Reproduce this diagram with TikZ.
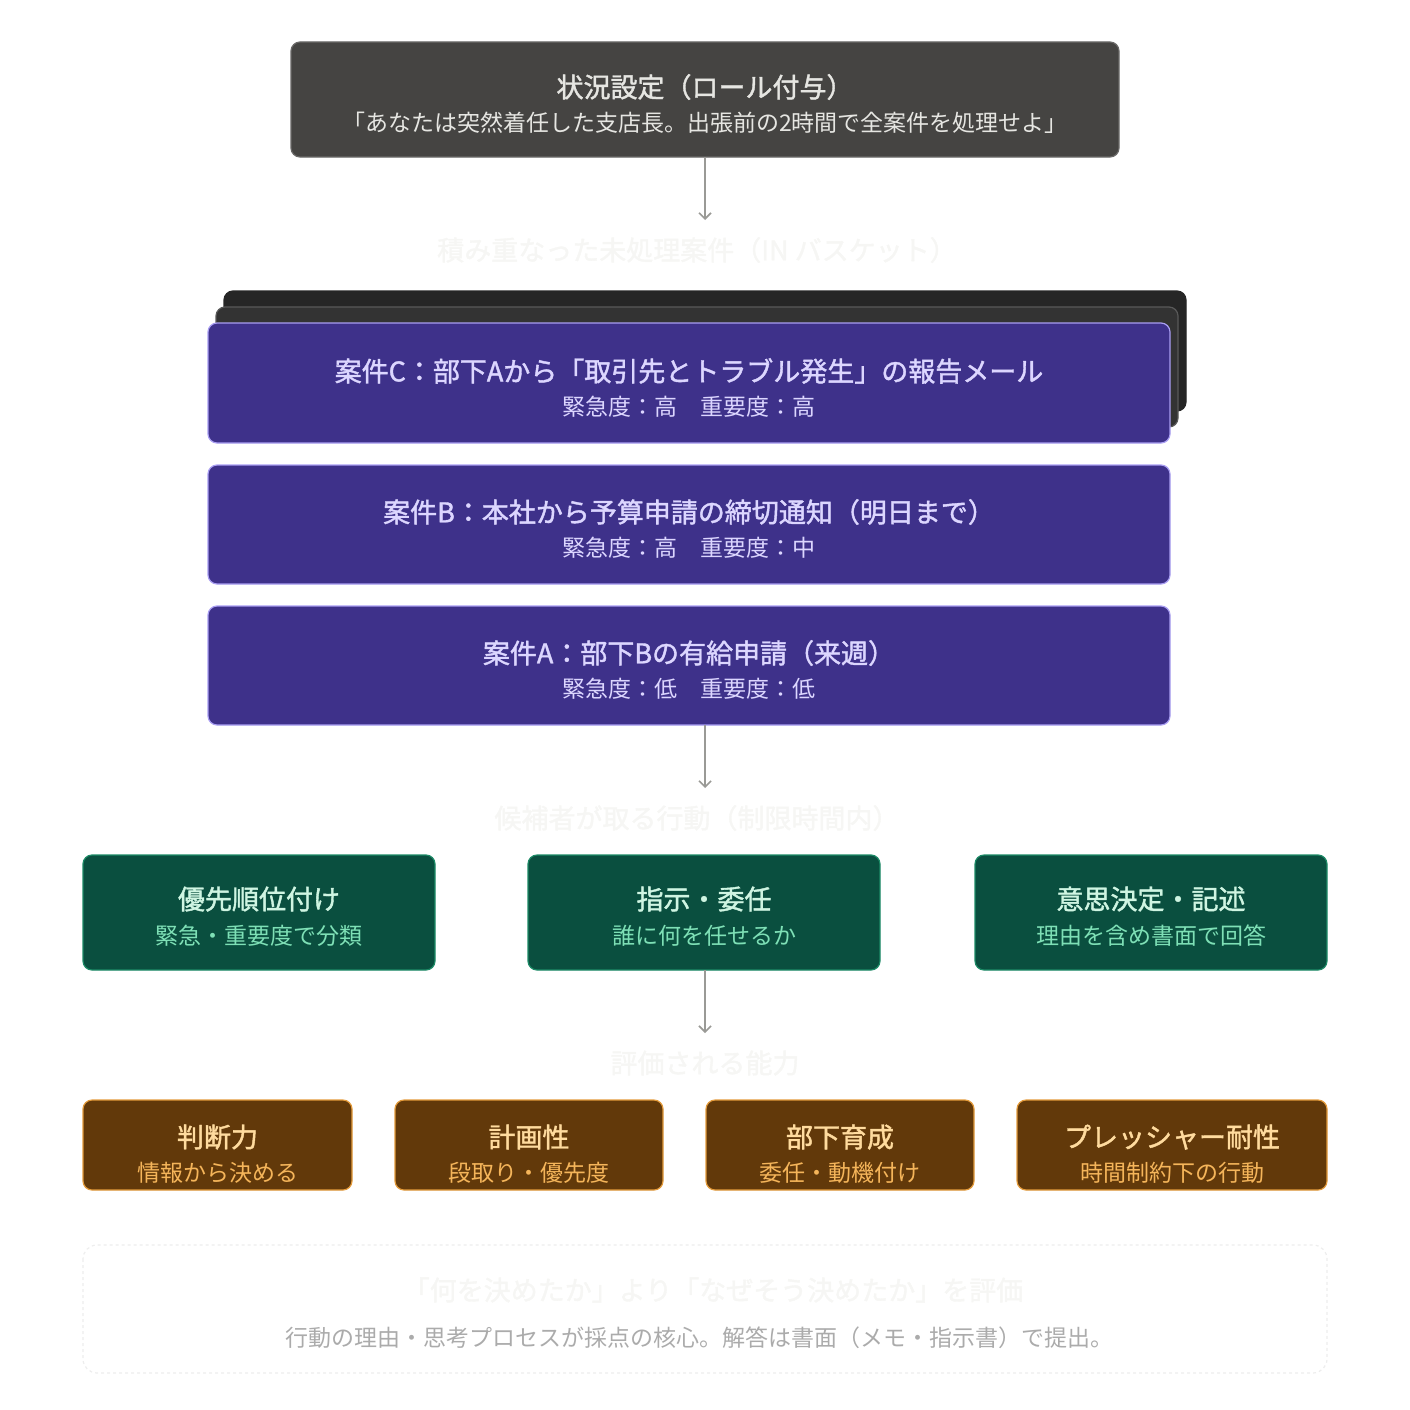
\documentclass[tikz,border=0pt]{standalone}
\usetikzlibrary{arrows.meta}
\usepackage{fontspec}
\setmainfont{Noto Sans CJK JP}
\newfontfamily\jpb{Noto Sans CJK JP}[FakeBold=1.5]
\definecolor{topbg}{HTML}{454442}
\definecolor{topfg}{HTML}{E6E6E2}
\definecolor{pbg}{HTML}{3E318A}
\definecolor{pfg}{HTML}{DCD6FF}
\definecolor{pbd}{HTML}{A99EF2}
\definecolor{gbg}{HTML}{0A4F3F}
\definecolor{gfg}{HTML}{CFF5E2}
\definecolor{gsub}{HTML}{7EE0B6}
\definecolor{gbd}{HTML}{1C8A66}
\definecolor{bbg}{HTML}{62390A}
\definecolor{bfg}{HTML}{FFDB9E}
\definecolor{bsub}{HTML}{F5B55A}
\definecolor{bbd}{HTML}{E39A3A}
\definecolor{faint}{HTML}{F6F6F4}
\definecolor{arr}{HTML}{9A9A96}
\begin{document}
\begin{tikzpicture}[x=1pt,y=-1pt,
  box/.style={rounded corners=9pt,line width=1.2pt},
  ttl/.style={font=\jpb\fontsize{27}{30}\selectfont},
  sub/.style={font=\fontsize{23}{26}\selectfont},
  conn/.style={draw=arr,line width=1.6pt,-{Straight Barb[length=6pt,width=12pt]}},
  sect/.style={text=faint,font=\jpb\fontsize{27}{30}\selectfont}]
\useasboundingbox (0,0) rectangle (1410,1410);
% top
\draw[box,fill=topbg,draw=topbg!80!white] (291,42) rectangle (1119,157);
\node[ttl,text=topfg] (t1) at (705,87) {状況設定（ロール付与）};
\node[sub,text=topfg] (t2) at (705,123) {「あなたは突然着任した支店長。出張前の2時間で全案件を処理せよ」};
\coordinate (topb) at (705,157);
\node[sect] (s1) at (697,250) {積み重なった未処理案件（IN バスケット）};
\coordinate (a1) at (705,220);
\draw[conn] (topb) -- (a1);
% stack
\draw[box,fill=black!85,draw=black!85] (224,291) rectangle (1186,411);
\draw[box,fill=black!80,draw=black!65] (216,307) rectangle (1178,427);
\draw[box,fill=pbg,draw=pbd] (208,323) rectangle (1170,443);
\node[ttl,text=pfg] (c1) at (689,371) {案件C：部下Aから「取引先とトラブル発生」の報告メール};
\node[sub,text=pfg] (c2) at (689,407) {緊急度：高　重要度：高};
\draw[box,fill=pbg,draw=pbd] (208,465) rectangle (1170,584);
\node[ttl,text=pfg] (b1) at (689,512) {案件B：本社から予算申請の締切通知（明日まで）};
\node[sub,text=pfg] (b2) at (689,548) {緊急度：高　重要度：中};
\draw[box,fill=pbg,draw=pbd] (208,606) rectangle (1170,725);
\node[ttl,text=pfg] (aa1) at (689,653) {案件A：部下Bの有給申請（来週）};
\node[sub,text=pfg] (aa2) at (689,689) {緊急度：低　重要度：低};
\coordinate (abot) at (705,725);
\coordinate (a2) at (705,788);
\draw[conn] (abot) -- (a2);
\node[sect] (s2) at (697,818) {候補者が取る行動（制限時間内）};
% green
\foreach \x/\t/\s/\n in {83/優先順位付け/緊急・重要度で分類/g1,528/指示・委任/誰に何を任せるか/g2,975/意思決定・記述/理由を含め書面で回答/g3}{
  \draw[box,fill=gbg,draw=gbd] (\x,855) rectangle (\x+352,970);
  \node[ttl,text=gfg] (\n t) at (\x+176,899) {\t};
  \node[sub,text=gsub] (\n s) at (\x+176,936) {\s};
}
\coordinate (gbot) at (705,970);
\coordinate (a3) at (705,1033);
\draw[conn] (gbot) -- (a3);
\node[sect] (s3) at (705,1063) {評価される能力};
% brown
\foreach \x/\w/\t/\s/\n in {83/269/判断力/情報から決める/r1,395/268/計画性/段取り・優先度/r2,706/268/部下育成/委任・動機付け/r3,1017/310/プレッシャー耐性/時間制約下の行動/r4}{
  \draw[box,fill=bbg,draw=bbd] (\x,1100) rectangle (\x+\w,1190);
  \node[ttl,text=bfg] (\n t) at (\x+\w/2,1137) {\t};
  \node[sub,text=bsub] (\n s) at (\x+\w/2,1173) {\s};
}
% bottom note
\draw[rounded corners=14pt,draw=black!7,dashed,line width=1.2pt] (83,1245) rectangle (1327,1373);
\node[sect] (n1) at (713,1290) {「何を決めたか」より「なぜそう決めたか」を評価};
\node[sub,text=black!33] (n2) at (699,1338) {行動の理由・思考プロセスが採点の核心。解答は書面（メモ・指示書）で提出。};
\end{tikzpicture}
\end{document}
